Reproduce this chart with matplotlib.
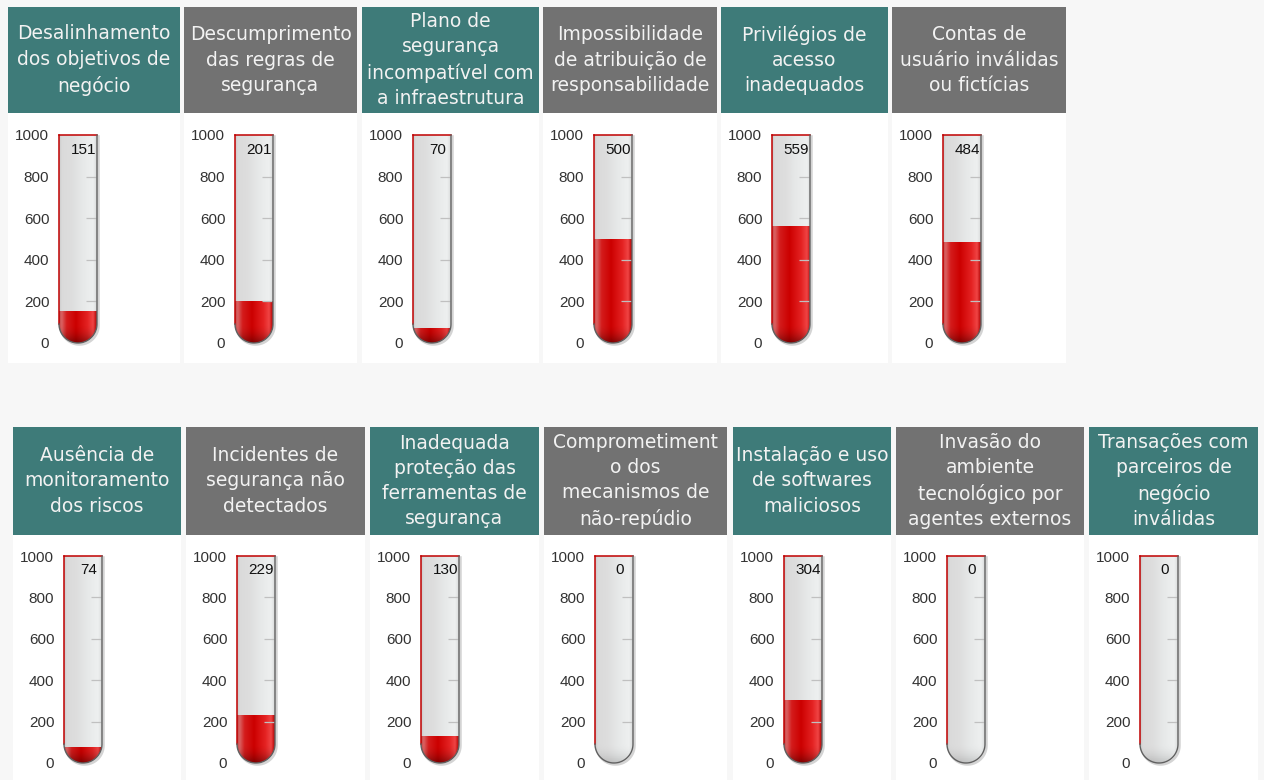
import matplotlib
matplotlib.use("Agg")
import matplotlib.pyplot as plt
import numpy as np
from matplotlib.path import Path
from matplotlib.patches import PathPatch
from matplotlib.colors import to_rgb
import matplotlib.transforms as mtransforms

# --- data -------------------------------------------------------------
top_titles = [
    "Desalinhamento\ndos objetivos de\nnegócio",
    "Descumprimento\ndas regras de\nsegurança",
    "Plano de\nsegurança\nincompatível com\na infraestrutura",
    "Impossibilidade\nde atribuição de\nresponsabilidade",
    "Privilégios de\nacesso\ninadequados",
    "Contas de\nusuário inválidas\nou fictícias",
]
top_values = [151, 201, 70, 500, 559, 484]

bottom_titles = [
    "Ausência de\nmonitoramento\ndos riscos",
    "Incidentes de\nsegurança não\ndetectados",
    "Inadequada\nproteção das\nferramentas de\nsegurança",
    "Comprometiment\no dos\nmecanismos de\nnão-repúdio",
    "Instalação e uso\nde softwares\nmaliciosos",
    "Invasão do\nambiente\ntecnológico por\nagentes externos",
    "Transações com\nparceiros de\nnegócio\ninválidas",
]
bottom_values = [74, 229, 130, 0, 304, 0, 0]

scale_ticks = [0, 200, 400, 600, 800, 1000]
scale_max = 1000

# --- layout (pixels) --------------------------------------------------
W, H = 1264, 780
top_panels_x = [(8, 180), (184, 357), (362, 539), (543, 717), (721, 888), (892, 1066)]
bottom_panels_x = [(13, 181), (186, 365), (370, 539), (544, 727), (733, 891),
                   (896, 1084), (1089, 1258)]
rows = [
    dict(titles=top_titles, values=top_values, xs=top_panels_x,
         head=(7, 113), panel_bottom=363, tube=(135, 343)),
    dict(titles=bottom_titles, values=bottom_values, xs=bottom_panels_x,
         head=(427, 535), panel_bottom=780, tube=(556, 763)),
]
TEAL = "#3e7b79"
GRAY = "#727272"
TUBE_W = 38
TUBE_OFF = 51
NUM_FONT = ["Liberation Sans Narrow", "Liberation Sans", "DejaVu Sans"]

plt.rcParams["font.family"] = ["DejaVu Sans"]


def px_axes(fig, x0, y0, x1, y1, **kw):
    return fig.add_axes([x0 / W, 1 - y1 / H, (x1 - x0) / W, (y1 - y0) / H], **kw)


def gradient(stops, n=200):
    pos = np.array([s[0] for s in stops])
    cols = np.array([to_rgb(s[1]) for s in stops])
    x = np.linspace(0, 1, n)
    return np.stack([np.interp(x, pos, cols[:, k]) for k in range(3)], axis=1)


glass_row = gradient([(0, "#c8c8c8"), (0.07, "#dadada"), (0.35, "#dedede"),
                      (0.6, "#e6e8e8"), (0.9, "#eef0f0"), (1.0, "#d8dada")])
red_row = gradient([(0, "#c04848"), (0.07, "#da6262"), (0.2, "#d41c1c"),
                    (0.45, "#cc0000"), (0.75, "#e42222"), (0.9, "#f04444"),
                    (1.0, "#b00000")])


def draw_gauge(fig, x0, y_top, y_zero, value):
    ax = px_axes(fig, x0, y_top, x0 + TUBE_W, y_zero)
    ax.set_xlim(0, 1)
    ax.set_ylim(0, scale_max)
    ax.set_facecolor("none")
    for s in ax.spines.values():
        s.set_visible(False)
    ax.set_xticks([])
    ax.set_yticks(scale_ticks)
    ax.set_yticklabels([str(t) for t in scale_ticks])
    ax.tick_params(axis="y", length=0, pad=7, labelsize=11, labelcolor="#333333")
    for lab in ax.get_yticklabels():
        lab.set_family(NUM_FONT)

    ry = 0.5 * TUBE_W / (y_zero - y_top) * scale_max
    th = np.linspace(np.pi, 2 * np.pi, 60)
    arc = np.column_stack([0.5 + 0.5 * np.cos(th), ry + ry * np.sin(th)])
    verts = np.vstack([[[0, scale_max], [0, ry]], arc, [[1, ry], [1, scale_max], [0, scale_max]]])
    codes = [Path.MOVETO] + [Path.LINETO] * (len(verts) - 2) + [Path.CLOSEPOLY]
    tube = PathPatch(Path(verts, codes), facecolor="none", edgecolor="none")
    ax.add_patch(tube)

    # soft drop shadow
    sh = mtransforms.offset_copy(ax.transData, fig=fig, x=1.5, y=-1.5, units="dots")
    ax.plot(np.r_[1, 1, arc[::-1, 0]], np.r_[scale_max, ry, arc[::-1, 1]],
            color="#d4d4d4", lw=1.8, transform=sh, clip_on=False, zorder=1)

    # glass body
    ny = 120
    yy = np.linspace(0, scale_max, ny)
    shade = np.where(yy < ry, 1 - 0.15 * ((ry - yy) / ry) ** 2, 1.0)
    glass = glass_row[None, :, :] * shade[:, None, None]
    im = ax.imshow(glass, extent=(0, 1, 0, scale_max), origin="lower",
                   aspect="auto", zorder=2)
    im.set_clip_path(tube)

    # liquid
    if value > 0:
        yv = np.linspace(0, value, ny)
        shade = np.where(yv < ry, 1 - 0.4 * ((ry - yv) / ry) ** 2, 1.0)
        liquid = np.clip(red_row[None, :, :] * shade[:, None, None], 0, 1)
        im2 = ax.imshow(liquid, extent=(0, 1, 0, value), origin="lower",
                        aspect="auto", zorder=3)
        im2.set_clip_path(tube)

    ax.hlines(scale_ticks[1:-1], 0.7, 0.97, color="#c0c0c0", lw=0.9, zorder=4)

    # outline: red on the left/top, dark on the right/bottom
    ax.plot([0, 0], [ry, scale_max], color="#c00000", lw=1.1, zorder=5, clip_on=False)
    ax.plot([0, 1], [scale_max, scale_max], color="#c00000", lw=1.1, zorder=5, clip_on=False)
    ax.plot(np.r_[arc[:, 0], 1, 1], np.r_[arc[:, 1], ry, scale_max],
            color="#606060", lw=1, zorder=5, clip_on=False)

    ax.set_xlim(0, 1)
    ax.set_ylim(0, scale_max)
    ax.text(0.64, 930, str(value), ha="center", va="center", fontsize=11,
            color="#111111", zorder=6, family=NUM_FONT)


fig = plt.figure(figsize=(W / 100, H / 100), dpi=100)
fig.patch.set_facecolor("#f7f7f7")

for row in rows:
    h0, h1 = row["head"]
    for i, ((x0, x1), title, value) in enumerate(zip(row["xs"], row["titles"], row["values"])):
        panel = px_axes(fig, x0, h1, x1, row["panel_bottom"])
        panel.set_facecolor("white")
        panel.set_xticks([])
        panel.set_yticks([])
        for s in panel.spines.values():
            s.set_visible(False)

        head = px_axes(fig, x0, h0, x1, h1)
        head.set_facecolor(TEAL if i % 2 == 0 else GRAY)
        head.set_xticks([])
        head.set_yticks([])
        for s in head.spines.values():
            s.set_visible(False)
        head.text(0.5, 0.5, title, ha="center", va="center", color="#f2f2f2",
                  fontsize=13.5, linespacing=1.42, transform=head.transAxes)

        draw_gauge(fig, x0 + TUBE_OFF, row["tube"][0], row["tube"][1], value)

fig.savefig("out.png", dpi=100, facecolor=fig.get_facecolor())
